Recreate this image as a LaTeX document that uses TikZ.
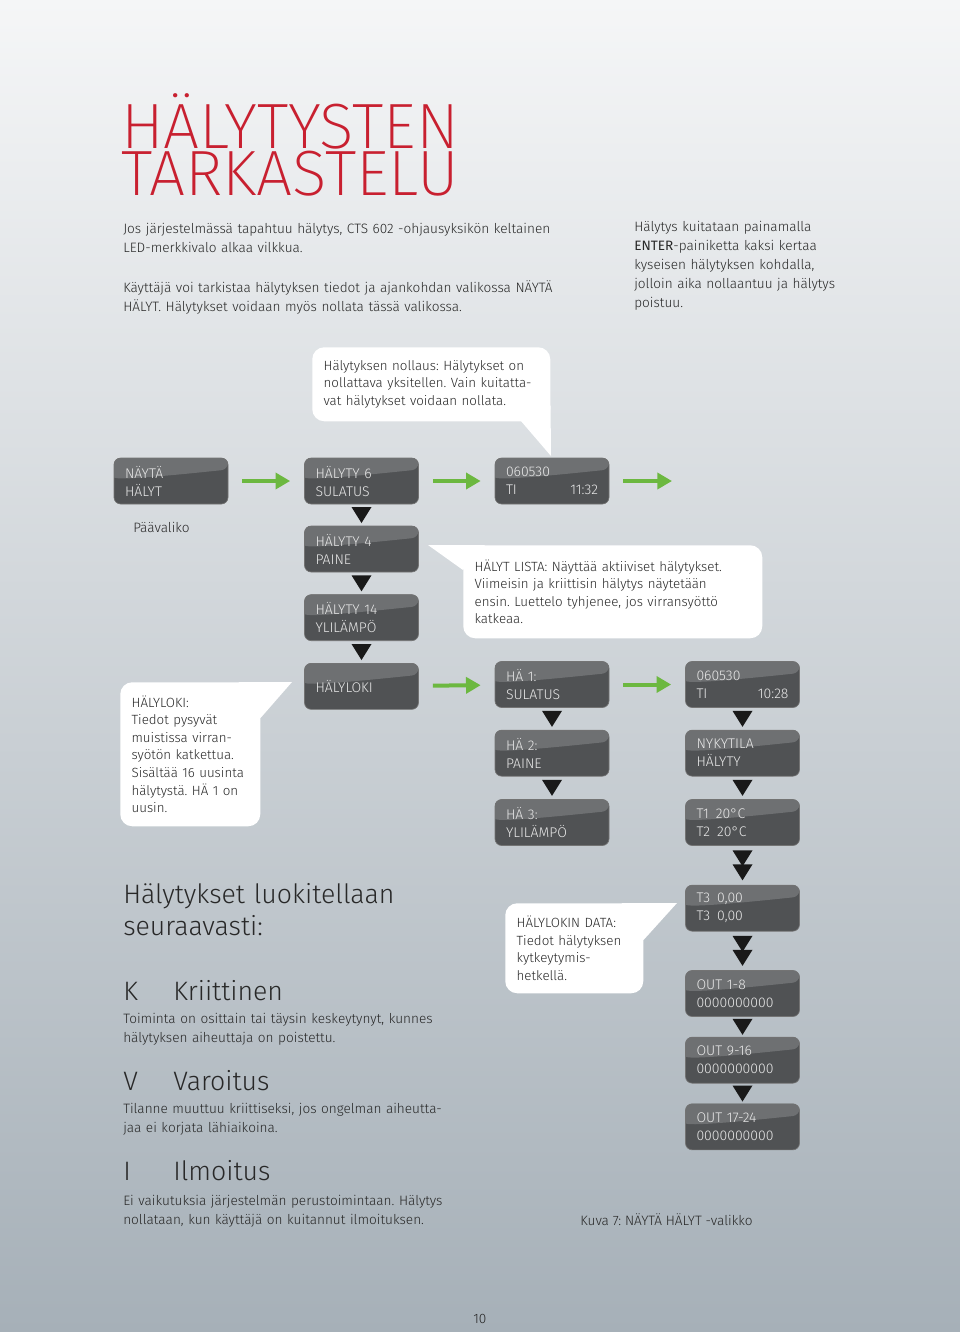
\documentclass[tikz,border=0pt]{standalone}
\usepackage{fontspec}
\setmainfont{Fira Sans Light}[BoldFont={Fira Sans}]
\newfontfamily\titlefont{Fira Sans ExtraLight}
\usepackage{tikz}
\usetikzlibrary{positioning, arrows.meta, calc}
\frenchspacing

\definecolor{pagetop}{RGB}{245,246,247}
\definecolor{pagemid}{RGB}{207,213,218}
\definecolor{pagebot}{RGB}{166,176,184}
\definecolor{titlered}{RGB}{200,32,48}
\definecolor{inktext}{RGB}{40,40,40}
\definecolor{lcdbase}{RGB}{80,82,84}
\definecolor{lcdgloss}{RGB}{110,112,114}
\definecolor{lcdtext}{RGB}{232,232,232}
\definecolor{arrowgreen}{RGB}{108,184,64}
\definecolor{tridark}{RGB}{25,25,25}

% black step marks between two display boxes
\newcommand{\stepdown}[2]{%
  \fill[tridark] ($(#1.south)!0.5!(#2.north)+(-10,-8)$) -- ($(#1.south)!0.5!(#2.north)+(10,-8)$)
    -- ($(#1.south)!0.5!(#2.north)+(0,8)$) -- cycle;}
\newcommand{\stepdowntwo}[2]{%
  \foreach \dy in {-7,7}
    \fill[tridark] ($(#1.south)!0.5!(#2.north)+(-10,\dy-8)$) -- ($(#1.south)!0.5!(#2.north)+(10,\dy-8)$)
      -- ($(#1.south)!0.5!(#2.north)+(0,\dy+8)$) -- cycle;}

\begin{document}
\begin{tikzpicture}[x=0.75pt, y=-0.75pt,
    lcd/.style={draw=black!55, line width=0.5pt, fill=lcdbase, rounded corners=5pt,
                minimum height=34.5pt, text width=69pt, inner xsep=8.25pt, inner ysep=0pt,
                align=left, text=lcdtext, font=\fontsize{10.5}{13.5}\selectfont,
                path picture={\fill[lcdgloss]
                  (path picture bounding box.north west) -- (path picture bounding box.north east)
                  -- ($(path picture bounding box.north east)!0.25!(path picture bounding box.south east)$)
                  .. controls ($(path picture bounding box.north)!0.38!(path picture bounding box.south)$)
                  and ($(path picture bounding box.north west)!0.50!(path picture bounding box.south west)$)
                  .. ($(path picture bounding box.north west)!0.56!(path picture bounding box.south west)$)
                  -- cycle;}},
    callout/.style={fill=white, rounded corners=9pt, align=left, inner xsep=8.5pt, inner ysep=0pt,
                    anchor=north west, text=inktext, font=\fontsize{10}{13.2}\selectfont},
    para/.style={inner sep=0pt, align=left, anchor=base west, text=inktext,
                 font=\fontsize{10.2}{14.4}\selectfont},
    titleblock/.style={inner sep=0pt, align=left, anchor=base west, text=titlered,
                       font=\titlefont\fontsize{48}{35.25}\selectfont},
    bighead/.style={inner sep=0pt, align=left, anchor=base west, text=inktext,
                    font=\fontsize{20}{24}\selectfont},
    garrow/.style={draw=arrowgreen, line width=3pt, -{Triangle[length=11pt, width=12pt]},
                   shorten <=10.5pt, shorten >=10.5pt}
]
    \useasboundingbox (0,0) rectangle (960,1332);
    \shade[top color=pagetop, middle color=pagemid, bottom color=pagebot] (0,0) rectangle (960,1332);

    % ========== Title and intro ==========
    \node[titleblock, text width=300pt] (title) at (121,148) {HÄLYTYSTEN\\TARKASTELU};
    \node[para, text width=360pt] (intro) at (123,233) {%
        Jos järjestelmässä tapahtuu hälytys, CTS 602 -ohjausyksikön keltainen\\
        LED-merkkivalo alkaa vilkkua.\\[15.6pt]
        Käyttäjä voi tarkistaa hälytyksen tiedot ja ajankohdan valikossa NÄYTÄ\\
        HÄLYT. Hälytykset voidaan myös nollata tässä valikossa.};
    \node[para, text width=230pt] (kuittaus) at (634,231) {%
        Hälytys kuitataan painamalla\\
        \textbf{ENTER}-painiketta kaksi kertaa\\
        kyseisen hälytyksen kohdalla,\\
        jolloin aika nollaantuu ja hälytys\\
        poistuu.};

    % ========== Callouts ==========
    \node[callout, text width=161.5pt, minimum height=55.5pt] (nollaus) at (312,347) {%
        Hälytyksen nollaus: Hälytykset on\\
        nollattava yksitellen. Vain kuitatta-\\
        vat hälytykset voidaan nollata.};
    \coordinate (nollaus-tip) at (551,456);
    \fill[white] ($(nollaus.south east)+(-30,-1)$) -- (nollaus-tip) -- ($(nollaus.south east)+(0,-16)$) -- cycle;

    \node[callout, text width=207.25pt, minimum height=69.75pt] (lista) at (463,545) {%
        HÄLYT LISTA: Näyttää aktiiviset hälytykset.\\
        Viimeisin ja kriittisin hälytys näytetään\\
        ensin. Luettelo tyhjenee, jos virransyöttö\\
        katkeaa.};
    \coordinate (lista-tip) at (428,545);
    \fill[white] (lista-tip) -- ($(lista.north west)+(22,0)$) -- ($(lista.north west)+(0,25)$) -- cycle;

    \node[callout, text width=88pt, minimum height=108pt] (lokinote) at (120,682) {%
        HÄLYLOKI:\\
        Tiedot pysyvät\\
        muistissa virran-\\
        syötön katkettua.\\
        Sisältää 16 uusinta\\
        hälytystä. HÄ 1 on\\
        uusin.};
    \coordinate (lokinote-tip) at (292,682);
    \fill[white] ($(lokinote.north east)+(-22,0)$) -- (lokinote-tip) -- ($(lokinote.north east)+(0,36)$) -- cycle;

    \node[callout, text width=86.5pt, minimum height=67.5pt] (datanote) at (505,903) {%
        HÄLYLOKIN DATA:\\
        Tiedot hälytyksen\\
        kytkeytymis-\\
        hetkellä.};
    \coordinate (datanote-tip) at (677,903);
    \fill[white] ($(datanote.north east)+(-22,0)$) -- (datanote-tip) -- ($(datanote.north east)+(0,37)$) -- cycle;

    % ========== Menu: main row ==========
    \node[lcd] (naytta) at (171,481) {NÄYTÄ\\HÄLYT};
    \node[lcd] (h6) at (361.5,481) {HÄLYTY 6\\SULATUS};
    \node[lcd] (d1) at (552,481) {060530\\TI\hfill 11:32};
    \coordinate (more1) at (686,481);
    \node[para] (paavalikko) at (133,532) {Päävaliko};

    \node[lcd, below=16pt of h6] (h4) {HÄLYTY 4\\PAINE};
    \node[lcd, below=16.5pt of h4] (h14) {HÄLYTY 14\\YLILÄMPÖ};
    \node[lcd, below=16.5pt of h14] (hloki) {HÄLYLOKI};

    % ========== Menu: alarm log ==========
    \node[lcd] (ha1) at (552,684.5) {HÄ 1:\\SULATUS};
    \node[lcd, below=16.5pt of ha1] (ha2) {HÄ 2:\\PAINE};
    \node[lcd, below=17pt of ha2] (ha3) {HÄ 3:\\YLILÄMPÖ};

    \node[lcd] (d2) at (742.5,684.5) {060530\\TI\hfill 10:28};
    \node[lcd, below=16.5pt of d2] (nyky) {NYKYTILA\\HÄLYTY};
    \node[lcd, below=17pt of nyky] (t12) {T1\enspace 20°C\\T2\enspace 20°C};
    \node[lcd, below=29.25pt of t12] (t3) {T3\enspace 0,00\\T3\enspace 0,00};
    \node[lcd, below=29pt of t3] (out1) {OUT 1-8\\0000000000};
    \node[lcd, below=15pt of out1] (out2) {OUT 9-16\\0000000000};
    \node[lcd, below=15pt of out2] (out3) {OUT 17-24\\0000000000};

    % --- green steps ---
    \draw[garrow] (naytta) -- (h6);
    \draw[garrow] (h6) -- (d1);
    \draw[garrow] (d1) -- (more1);
    \draw[garrow] (hloki) -- (ha1);
    \draw[garrow] (ha1) -- (d2);

    % --- black steps ---
    \stepdown{h6}{h4}
    \stepdown{h4}{h14}
    \stepdown{h14}{hloki}
    \stepdown{ha1}{ha2}
    \stepdown{ha2}{ha3}
    \stepdown{d2}{nyky}
    \stepdown{nyky}{t12}
    \stepdowntwo{t12}{t3}
    \stepdowntwo{t3}{out1}
    \stepdown{out1}{out2}
    \stepdown{out2}{out3}

    % ========== Alarm classes ==========
    \node[bighead, text width=300pt] (luokat) at (123,903) {Hälytykset luokitellaan\\seuraavasti:};
    \node[bighead] (krit) at (123,1000) {\makebox[37.5pt][l]{K}Kriittinen};
    \node[para, text width=360pt, font=\fontsize{10.2}{14.8}\selectfont] (krit-text) at (123,1023) {%
        Toiminta on osittain tai täysin keskeytynyt, kunnes\\
        hälytyksen aiheuttaja on poistettu.};
    \node[bighead] (varo) at (123,1090) {\makebox[37.5pt][l]{V}Varoitus};
    \node[para, text width=360pt, font=\fontsize{10.2}{14.8}\selectfont] (varo-text) at (123,1113) {%
        Tilanne muuttuu kriittiseksi, jos ongelman aiheutta-\\
        jaa ei korjata lähiaikoina.};
    \node[bighead] (ilmo) at (123,1180) {\makebox[37.5pt][l]{I}Ilmoitus};
    \node[para, text width=360pt, font=\fontsize{10.2}{14.8}\selectfont] (ilmo-text) at (123,1205) {%
        Ei vaikutuksia järjestelmän perustoimintaan. Hälytys\\
        nollataan, kun käyttäjä on kuitannut ilmoituksen.};

    \node[para] (kuva) at (580,1225) {Kuva 7: NÄYTÄ HÄLYT -valikko};
    \node[para] (sivu) at (473,1323) {10};
\end{tikzpicture}
\end{document}
